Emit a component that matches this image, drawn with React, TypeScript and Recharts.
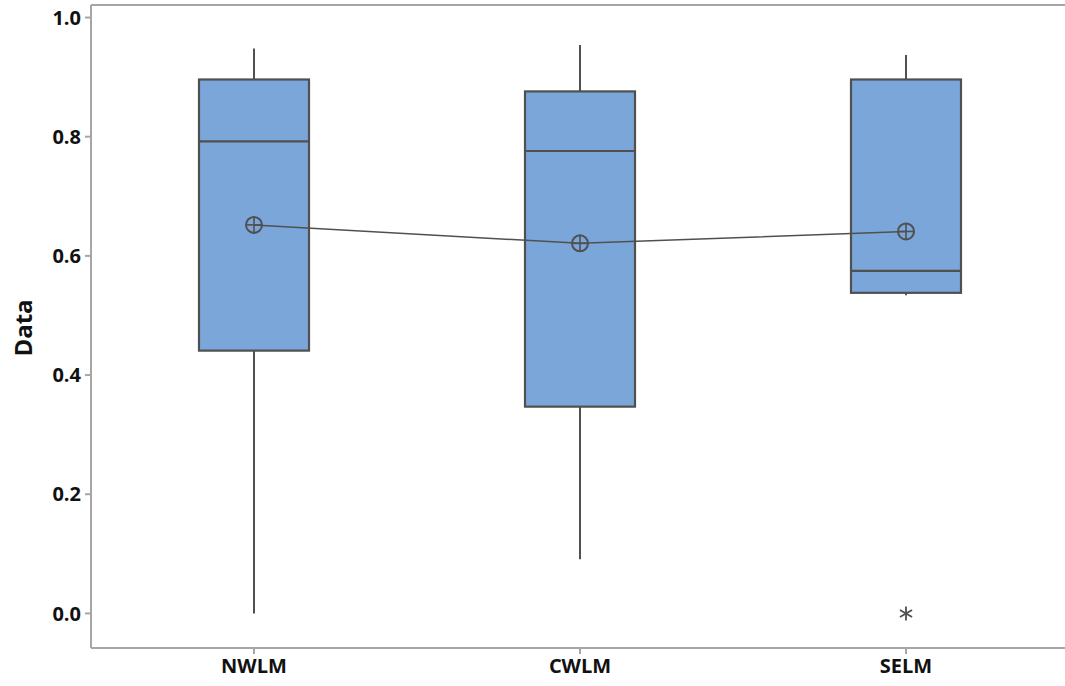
import {
  ComposedChart,
  Bar,
  Line,
  XAxis,
  YAxis,
  ReferenceLine,
} from "recharts";

const categories = ["NWLM", "CWLM", "SELM"];
const q1 = [0.441, 0.347, 0.538];
const median = [0.792, 0.776, 0.575];
const q3 = [0.896, 0.876, 0.896];
const whiskerLow = [0.0, 0.091, 0.534];
const whiskerHigh = [0.948, 0.954, 0.937];
const means = [0.652, 0.621, 0.641];
const outliers = [null, null, 0.0];
const yTicks = [0, 0.2, 0.4, 0.6, 0.8, 1.0];

const yMin = -0.058;
const yMax = 1.021;

const data = categories.map((name, i) => ({
  name,
  box: [q1[i], q3[i]],
  q1: q1[i],
  q3: q3[i],
  median: median[i],
  low: whiskerLow[i],
  high: whiskerHigh[i],
  mean: means[i],
  outlier: outliers[i],
}));

const INK = "#505050";
const AXIS = "#a6a6a6";
const FONT = "'Open Sans', 'Noto Sans', sans-serif";

// box + whiskers + median, positioned from the bar's own pixel geometry
function BoxShape(props: any) {
  const { x, y, width, height, payload } = props;
  const top = Math.min(y, y + height);
  const h = Math.abs(height);
  const ppu = h / (payload.q3 - payload.q1);
  const py = (v: number) => top + (payload.q3 - v) * ppu;
  const cx = x + width / 2;
  return (
    <g>
      <line x1={cx} x2={cx} y1={py(payload.high)} y2={top} stroke={INK} strokeWidth={2} />
      <line x1={cx} x2={cx} y1={top + h} y2={py(payload.low)} stroke={INK} strokeWidth={2} />
      <rect x={x} y={top} width={width} height={h} fill="#7ba6d9" stroke={INK} strokeWidth={2.2} />
      <line x1={x} x2={x + width} y1={py(payload.median)} y2={py(payload.median)} stroke={INK} strokeWidth={2.2} />
    </g>
  );
}

function MeanDot(props: any) {
  const { cx, cy, index } = props;
  if (cx == null || cy == null) return <g key={`m${index}`} />;
  return (
    <g key={`m${index}`}>
      <circle cx={cx} cy={cy} r={8} fill="none" stroke={INK} strokeWidth={2} />
      <line x1={cx - 8} x2={cx + 8} y1={cy} y2={cy} stroke={INK} strokeWidth={1.6} />
      <line x1={cx} x2={cx} y1={cy - 8} y2={cy + 8} stroke={INK} strokeWidth={1.6} />
    </g>
  );
}

function OutlierDot(props: any) {
  const { cx, cy, index, payload } = props;
  if (payload?.outlier == null || cy == null) return <g key={`o${index}`} />;
  const r = 7;
  const dx = r * Math.cos(Math.PI / 6);
  const dy = r * Math.sin(Math.PI / 6);
  return (
    <g key={`o${index}`} stroke={INK} strokeWidth={1.8}>
      <line x1={cx} x2={cx} y1={cy - r} y2={cy + r} />
      <line x1={cx - dx} x2={cx + dx} y1={cy - dy} y2={cy + dy} />
      <line x1={cx - dx} x2={cx + dx} y1={cy + dy} y2={cy - dy} />
    </g>
  );
}

export default function App() {
  return (
    <div
      style={{
        position: "absolute",
        left: 0,
        top: 0,
        width: 1065,
        height: 686,
        overflow: "hidden",
        background: "#fff",
      }}
    >
      <ComposedChart
        width={1075}
        height={686}
        data={data}
        margin={{ top: 5, right: 6, bottom: 0, left: 0 }}
      >
        <XAxis
          dataKey="name"
          height={38}
          axisLine={{ stroke: AXIS, strokeWidth: 2 }}
          tickLine={{ stroke: AXIS, strokeWidth: 2 }}
          tickSize={6}
          tickMargin={5}
          tick={{ fill: "#111", fontSize: 20, fontWeight: 700, fontFamily: FONT }}
        />
        <YAxis
          type="number"
          domain={[yMin, yMax]}
          ticks={yTicks}
          allowDataOverflow
          width={91}
          tickFormatter={(v: number) => v.toFixed(1)}
          axisLine={{ stroke: AXIS, strokeWidth: 2 }}
          tickLine={{ stroke: AXIS, strokeWidth: 2 }}
          tickSize={6}
          tickMargin={4}
          tick={{ fill: "#111", fontSize: 20, fontWeight: 700, fontFamily: FONT }}
          label={{
            content: () => (
              <text
                x={22}
                y={328}
                transform="rotate(-90 22 328)"
                textAnchor="middle"
                dominantBaseline="central"
                fontSize={24}
                fontWeight={700}
                fontFamily={FONT}
                fill="#111"
              >
                Data
              </text>
            ),
          }}
        />
        <ReferenceLine y={yMax} stroke={AXIS} strokeWidth={2} />
        <Bar dataKey="box" barSize={110} shape={BoxShape} isAnimationActive={false} />
        <Line
          dataKey="mean"
          stroke={INK}
          strokeWidth={1.5}
          dot={MeanDot}
          activeDot={false}
          isAnimationActive={false}
        />
        <Line
          dataKey="outlier"
          stroke="none"
          dot={OutlierDot}
          activeDot={false}
          isAnimationActive={false}
        />
      </ComposedChart>
    </div>
  );
}
